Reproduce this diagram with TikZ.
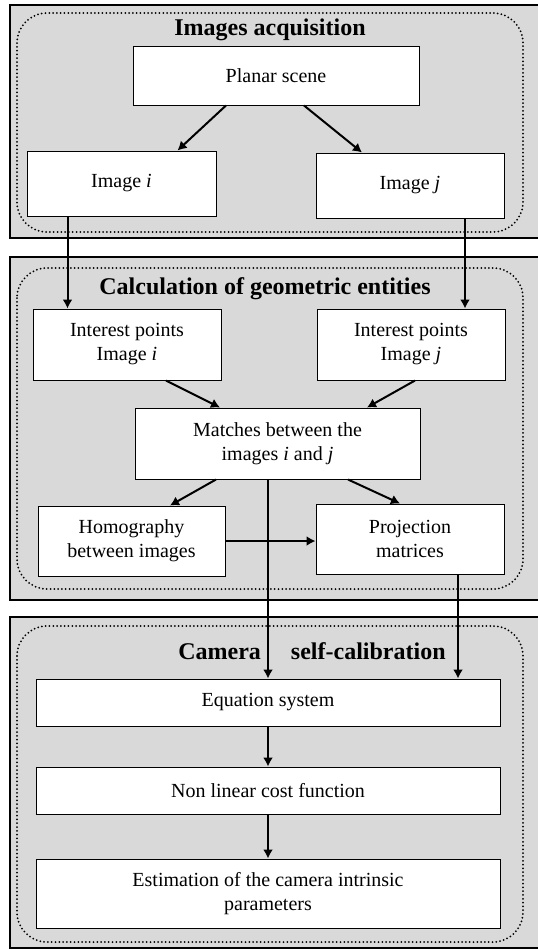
\documentclass[tikz,border=0pt]{standalone}
\usepackage{fontspec}
\setmainfont{Liberation Serif}
\usetikzlibrary{arrows.meta}

\begin{document}
\begin{tikzpicture}[x=0.5pt, y=-0.5pt,
    box/.style={draw, fill=white, line width=0.5pt, align=center, inner sep=0pt, font=\fontsize{10}{12}\selectfont},
    panel/.style={draw, fill=black!15, line width=1.4pt},
    frame/.style={rounded corners=15pt, line width=1pt, dash pattern=on 0pt off 1.9pt, line cap=round},
    title/.style={font=\bfseries\fontsize{12}{14}\selectfont},
    arr/.style={-{Latex[length=4.5pt,width=5pt]}, line width=1pt}]
    \useasboundingbox (0,0) rectangle (537,950);
    % the three panels
    \draw[panel] (10,5) rectangle (548,238);
    \draw[panel] (10,257) rectangle (548,600);
    \draw[panel] (10,617) rectangle (548,948);
    \draw[frame] (17,13) rectangle (523,232);
    \draw[frame] (17,268) rectangle (523,589);
    \draw[frame] (17,626) rectangle (523,942);
    \node[title] (t1) at (270,30) {Images acquisition};
    \node[title] (t2) at (265,289) {Calculation of geometric entities};
    \node[title] (t3) at (312,651) {Camera\quad\ self-calibration};

    % boxes
    \node[box, minimum width=143pt, minimum height=29.5pt] (ps) at (276,75.5) {Planar scene};
    \node[box, minimum width=94.5pt, minimum height=32.5pt] (imgi) at (121.5,183.5) {Image \textit{i}};
    \node[box, minimum width=94pt, minimum height=32.5pt] (imgj) at (410,185.5) {Image \textit{j}};
    \node[box, minimum width=94pt, minimum height=35.5pt] (ipi) at (127,344.5) {Interest points\\Image \textit{i}};
    \node[box, minimum width=94pt, minimum height=35.5pt] (ipj) at (411,344.5) {Interest points\\Image \textit{j}};
    \node[box, minimum width=142.5pt, minimum height=35.5pt] (mt) at (277.5,443.5) {Matches between the\\images \textit{i} and \textit{j}};
    \node[box, minimum width=93.5pt, minimum height=35pt] (hom) at (131.5,541) {Homography\\between images};
    \node[box, minimum width=94pt, minimum height=35pt] (prj) at (410,539) {Projection\\matrices};
    \node[box, minimum width=232pt, minimum height=23.5pt] (eq) at (268,702.5) {Equation system};
    \node[box, minimum width=232pt, minimum height=23.5pt] (nl) at (268,790.5) {Non linear cost function};
    \node[box, minimum width=232pt, minimum height=34.5pt] (est) at (268,893.5) {Estimation of the camera intrinsic\\parameters};

    % connectors
    \draw[arr] ([xshift=-25pt]ps.south) -- ([xshift=28pt]imgi.north);
    \draw[arr] ([xshift=14pt]ps.south) -- ([xshift=-24pt]imgj.north);
    \coordinate (di) at ([xshift=-27pt]imgi.south);
    \coordinate (dj) at ([xshift=27.5pt]imgj.south);
    \draw[arr] (di) -- (di |- ipi.north);
    \draw[arr] (dj) -- (dj |- ipj.north);
    \draw[arr] ([xshift=19.5pt]ipi.south) -- ([xshift=-28.75pt]mt.north);
    \draw[arr] ([xshift=2pt]ipj.south) -- ([xshift=44.75pt]mt.north);
    \draw[arr] ([xshift=-30.75pt]mt.south) -- ([xshift=19.25pt]hom.north);
    \draw[arr] ([xshift=35.25pt]mt.south) -- ([xshift=-5pt]prj.north);
    \draw[arr] (hom.east) -- (hom.east -| prj.west);
    \draw[arr] (mt.south -| eq.north) -- (eq.north);
    \coordinate (dp) at ([xshift=24pt]prj.south);
    \draw[arr] (dp) -- (dp |- eq.north);
    \draw[arr] (eq) -- (nl);
    \draw[arr] (nl) -- (est);
\end{tikzpicture}
\end{document}
